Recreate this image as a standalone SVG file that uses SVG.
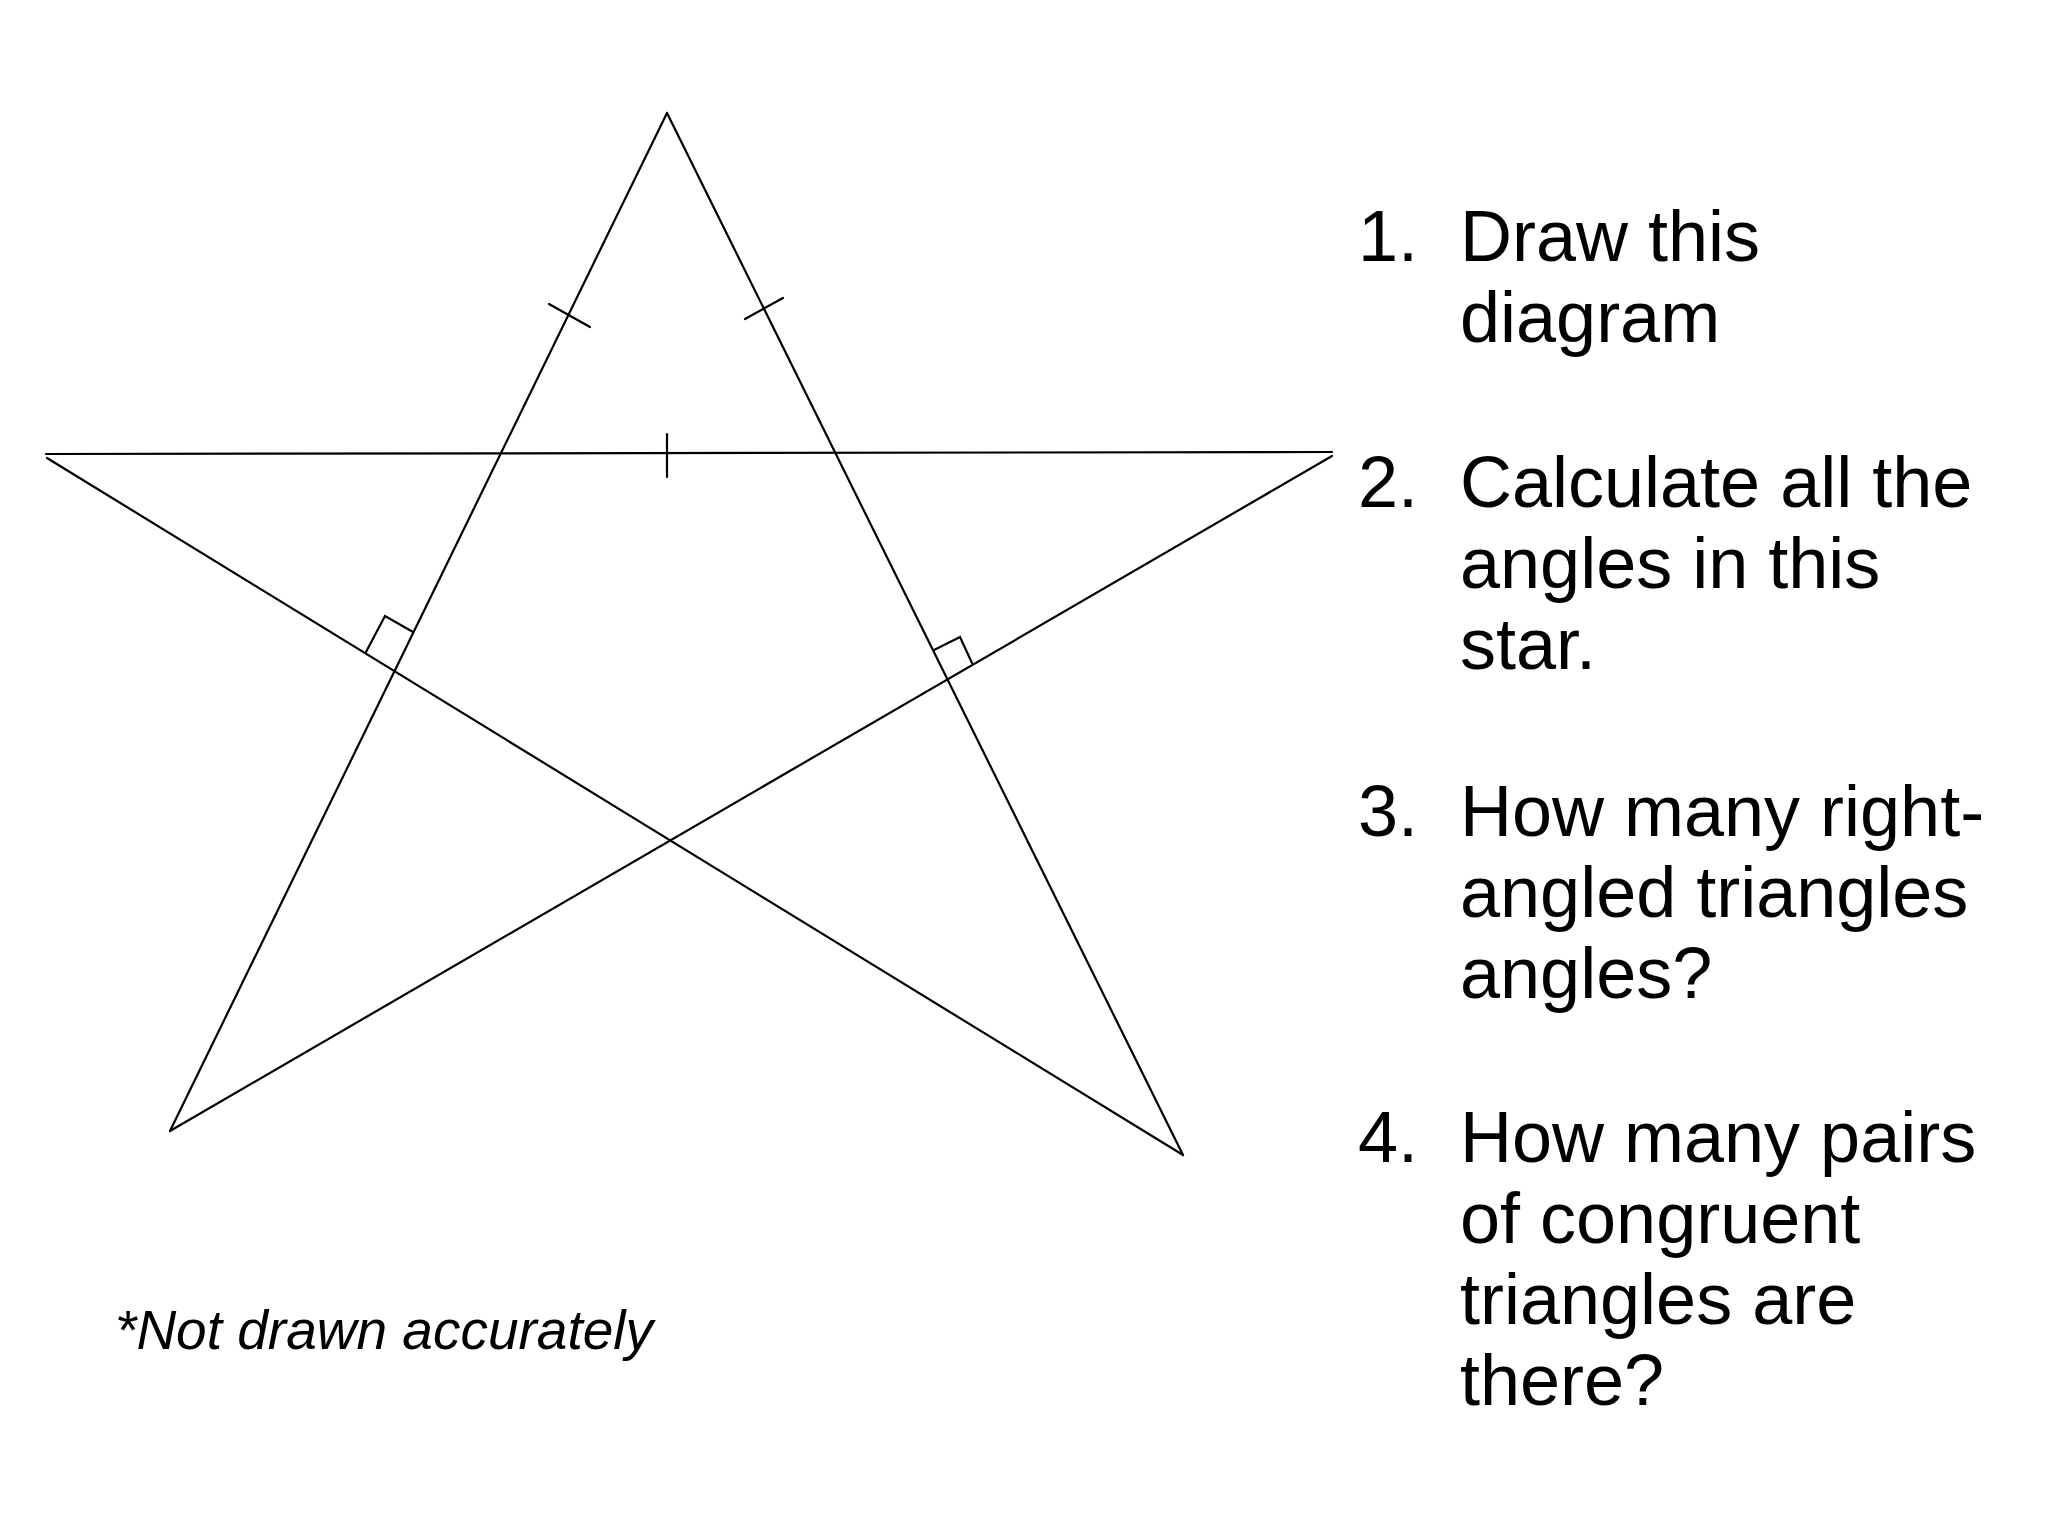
<svg xmlns="http://www.w3.org/2000/svg" width="2048" height="1536" viewBox="0 0 2048 1536">
<style>
.ln{stroke:#000;stroke-width:2.2;fill:none;stroke-linecap:round}
.q{font-family:"Liberation Sans",Arial,sans-serif;font-size:72px;fill:#000}
.note{font-family:"Liberation Sans",Arial,sans-serif;font-size:55px;font-style:italic;fill:#000}
</style>
<rect width="2048" height="1536" fill="#fff"/>
<g id="star-lines">
<line class="ln" x1="46" y1="454" x2="1332" y2="452"/>
<line class="ln" x1="667" y1="113" x2="170" y2="1131"/>
<line class="ln" x1="667" y1="113" x2="1183" y2="1155"/>
<line class="ln" x1="47" y1="458" x2="1183" y2="1155"/>
<line class="ln" x1="1332" y1="456" x2="170" y2="1131"/>
</g>
<g id="marks">
<line class="ln" x1="549" y1="304" x2="590" y2="327"/>
<line class="ln" x1="745" y1="319" x2="783" y2="298"/>
<line class="ln" x1="667" y1="434" x2="667" y2="477"/>
<polyline class="ln" points="366,652 385,616 413,632"/>
<polyline class="ln" points="934,650 960,637 972,663"/>
</g>
<g id="questions">
<text class="q" x="1358" y="261">1.</text>
<text class="q" x="1460" y="261">Draw this</text>
<text class="q" x="1460" y="342">diagram</text>
<text class="q" x="1358" y="507">2.</text>
<text class="q" x="1460" y="507">Calculate all the</text>
<text class="q" x="1460" y="588">angles in this</text>
<text class="q" x="1460" y="669">star.</text>
<text class="q" x="1358" y="836">3.</text>
<text class="q" x="1460" y="836">How many right-</text>
<text class="q" x="1460" y="917">angled triangles</text>
<text class="q" x="1460" y="998">angles?</text>
<text class="q" x="1358" y="1162">4.</text>
<text class="q" x="1460" y="1162">How many pairs</text>
<text class="q" x="1460" y="1243">of congruent</text>
<text class="q" x="1460" y="1324">triangles are</text>
<text class="q" x="1460" y="1405">there?</text>
</g>
<text class="note" x="115" y="1349">*Not drawn accurately</text>
</svg>
